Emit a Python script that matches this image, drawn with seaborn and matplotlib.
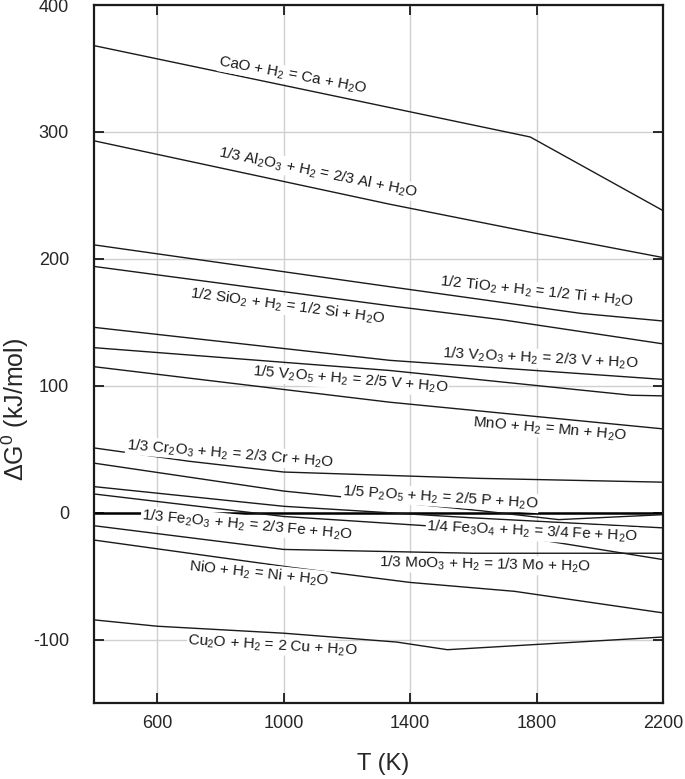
import matplotlib
matplotlib.use('Agg')
import matplotlib.pyplot as plt
import pandas as pd
import seaborn as sns

sns.set_theme(style='ticks')
plt.rcParams['font.family'] = ['Liberation Sans', 'DejaVu Sans']
plt.rcParams['mathtext.default'] = 'regular'
plt.rcParams['axes.unicode_minus'] = False

# dG0 of oxide reduction by H2 (kJ/mol)
cao_T = [400, 1780, 2200]
cao_G = [368, 296, 238]
al2o3_T = [400, 1336, 1800, 2200]
al2o3_G = [293, 243, 220, 201]
tio2_T = [400, 1336, 1940, 2200]
tio2_G = [211, 178, 157, 151]
sio2_T = [400, 1336, 1690, 2200]
sio2_G = [194, 163, 152, 133]
v2o3_T = [400, 1336, 2200]
v2o3_G = [146, 120, 105]
mno_T = [400, 1336, 2100, 2200]
mno_G = [130, 112, 92.5, 92]
cr2o3_T = [400, 1336, 2200]
cr2o3_G = [115, 87, 66]
v2o5_T = [400, 700, 1000, 1620, 2200]
v2o5_G = [51, 40.5, 32, 27, 24]
p2o5_T = [400, 1000, 1620, 1870, 2200]
p2o5_G = [39, 17, 1.6, -5.5, -1.6]
fe3o4_T = [400, 1000, 1590, 2200]
fe3o4_G = [20.5, 5, -4, -12]
fe2o3_T = [400, 1000, 1590, 2200]
fe2o3_G = [14.7, -3, -12.6, -37]
moo3_T = [400, 1000, 1600, 2200]
moo3_G = [-10.3, -29, -32, -32]
nio_T = [400, 1020, 1400, 1730, 2200]
nio_G = [-21.6, -43, -55, -62, -79]
cu2o_T = [400, 600, 1000, 1358, 1518, 2200]
cu2o_G = [-84.5, -89.5, -95, -102, -108, -98]

curves = {
    'CaO': (cao_T, cao_G), 'Al2O3': (al2o3_T, al2o3_G),
    'TiO2': (tio2_T, tio2_G), 'SiO2': (sio2_T, sio2_G),
    'V2O3': (v2o3_T, v2o3_G), 'MnO': (mno_T, mno_G),
    'Cr2O3': (cr2o3_T, cr2o3_G), 'V2O5': (v2o5_T, v2o5_G),
    'P2O5': (p2o5_T, p2o5_G), 'Fe3O4': (fe3o4_T, fe3o4_G),
    'Fe2O3': (fe2o3_T, fe2o3_G), 'MoO3': (moo3_T, moo3_G),
    'NiO': (nio_T, nio_G), 'Cu2O': (cu2o_T, cu2o_G),
}
df = pd.concat([pd.DataFrame({'T': t, 'dG': g, 'oxide': name})
                for name, (t, g) in curves.items()], ignore_index=True)

# reaction labels and where they sit (T, dG, rotation)
labels = [
    'CaO + H$_2$ = Ca + H$_2$O',
    '1/3 Al$_2$O$_3$ + H$_2$ = 2/3 Al + H$_2$O',
    '1/2 TiO$_2$ + H$_2$ = 1/2 Ti + H$_2$O',
    '1/2 SiO$_2$ + H$_2$ = 1/2 Si + H$_2$O',
    '1/3 V$_2$O$_3$ + H$_2$ = 2/3 V + H$_2$O',
    '1/5 V$_2$O$_5$ + H$_2$ = 2/5 V + H$_2$O',
    'MnO + H$_2$ = Mn + H$_2$O',
    '1/3 Cr$_2$O$_3$ + H$_2$ = 2/3 Cr + H$_2$O',
    '1/5 P$_2$O$_5$ + H$_2$ = 2/5 P + H$_2$O',
    '1/3 Fe$_2$O$_3$ + H$_2$ = 2/3 Fe + H$_2$O',
    '1/4 Fe$_3$O$_4$ + H$_2$ = 3/4 Fe + H$_2$O',
    '1/3 MoO$_3$ + H$_2$ = 1/3 Mo + H$_2$O',
    'NiO + H$_2$ = Ni + H$_2$O',
    'Cu$_2$O + H$_2$ = 2 Cu + H$_2$O',
]
label_pos = [
    (1030, 344, -10.5), (1109, 268, -11.5), (1801, 174, -6),
    (1011, 163, -7.5), (1811, 121.5, -3), (1210, 104.5, -4.8),
    (1843, 65.5, -5), (830, 46.5, -4.8), (1495, 12, -3.7),
    (884, -9.5, -5.3), (1786, -15, -2.8), (1637, -41, -1.2),
    (922, -48, -6), (966, -105, -3.5),
]

fig = plt.figure(figsize=(6.85, 7.79), dpi=100)
ax = fig.add_axes([94/685, 1-703/779, 569/685, 698/779])

ax.axhline(0, color='black', lw=1.8, zorder=2)
sns.lineplot(data=df, x='T', y='dG', units='oxide', estimator=None, sort=False,
             color='#1a1a1a', lw=1.0, ax=ax, zorder=3)

for text, (t, g, rot) in zip(labels, label_pos):
    ax.text(t, g, text, fontsize=11, rotation=rot, rotation_mode='anchor',
            ha='center', va='center', color='#1a1a1a', zorder=5,
            bbox=dict(facecolor='white', edgecolor='none', pad=0.5))

ax.set_xlim(400, 2200)
ax.set_ylim(-150, 400)
ax.set_xticks([600, 1000, 1400, 1800, 2200])
ax.set_yticks([-100, 0, 100, 200, 300, 400])
ax.grid(True, color='#d0d0d0', lw=1.0)
ax.set_axisbelow(True)
ax.tick_params(direction='in', length=7, width=1.3, top=True, right=True,
               labelsize=13, color='#1a1a1a')
ax.tick_params(axis='x', pad=9)
ax.tick_params(axis='y', pad=18)
for sp in ax.spines.values():
    sp.set_linewidth(1.6)
    sp.set_color('#1a1a1a')

ax.set_xlabel('T (K)', fontsize=17)
ax.set_ylabel(r'$\Delta$G$^0$ (kJ/mol)', fontsize=18)
ax.xaxis.set_label_coords(0.508, -0.072)
ax.yaxis.set_label_coords(-0.111, 0.42)

fig.savefig('out.png', dpi=100)
